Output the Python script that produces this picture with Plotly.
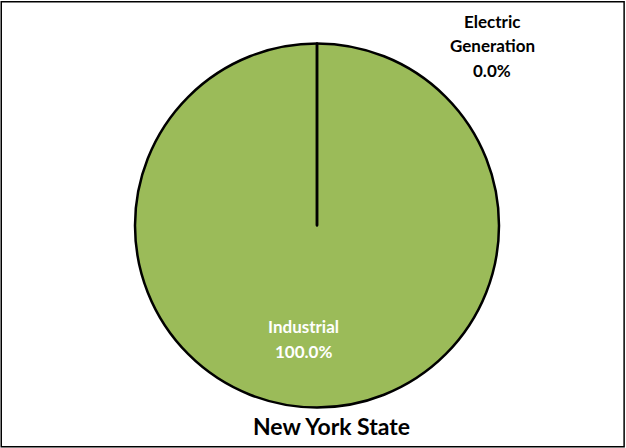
import math
import plotly.graph_objects as go

# Sector shares of natural gas use
labels = ["Industrial", "Electric Generation"]
values = [100.0, 0.0]
title_text = "New York State"

W, H = 626, 448
dom_x = [135 / W, 499 / W]
dom_y = [40 / H, 405 / H]

fig = go.Figure(
    go.Pie(
        labels=labels,
        values=values,
        sort=False,
        direction="clockwise",
        rotation=0,
        textinfo="none",
        hoverinfo="label+percent",
        marker=dict(colors=["#9BBB59", "#4F81BD"], line=dict(color="black", width=2.5)),
        domain=dict(x=dom_x, y=dom_y),
        showlegend=False,
    )
)

# Slice boundary: radius from the pie centre up to the start angle (12 o'clock)
cx = (dom_x[0] + dom_x[1]) / 2
cy = (dom_y[0] + dom_y[1]) / 2
r_px = min((dom_x[1] - dom_x[0]) * W, (dom_y[1] - dom_y[0]) * H) / 2
fig.add_shape(type="line", xref="paper", yref="paper",
              x0=cx, y0=cy, x1=cx, y1=cy + r_px / H,
              line=dict(color="black", width=2.5))

# Outer frame
fig.add_shape(type="rect", xref="paper", yref="paper",
              x0=0.002, y0=0.003, x1=0.997, y1=0.996,
              line=dict(color="black", width=1.5))

font = "Lato, 'Open Sans', sans-serif"
total = sum(values)
pct = [f"{v / total * 100:.1f}%" for v in values]

def label_lines(lines, x_px, y_px_list, color, size):
    for txt, y_px in zip(lines, y_px_list):
        fig.add_annotation(xref="paper", yref="paper", x=x_px / W, y=1 - y_px / H,
                           xanchor="center", yanchor="middle",
                           text=f"<b>{txt}</b>", showarrow=False,
                           font=dict(family=font, size=size, color=color))

label_lines(["Electric", "Generation", pct[1]], 492, [21, 45, 70], "black", 17)
label_lines([labels[0], pct[0]], 303, [326, 351], "white", 17)
label_lines([title_text], 331, [426], "black", 23)

fig.update_layout(width=W, height=H, margin=dict(l=0, r=0, t=0, b=0),
                  paper_bgcolor="white", plot_bgcolor="white")

fig.write_html("out.html")
